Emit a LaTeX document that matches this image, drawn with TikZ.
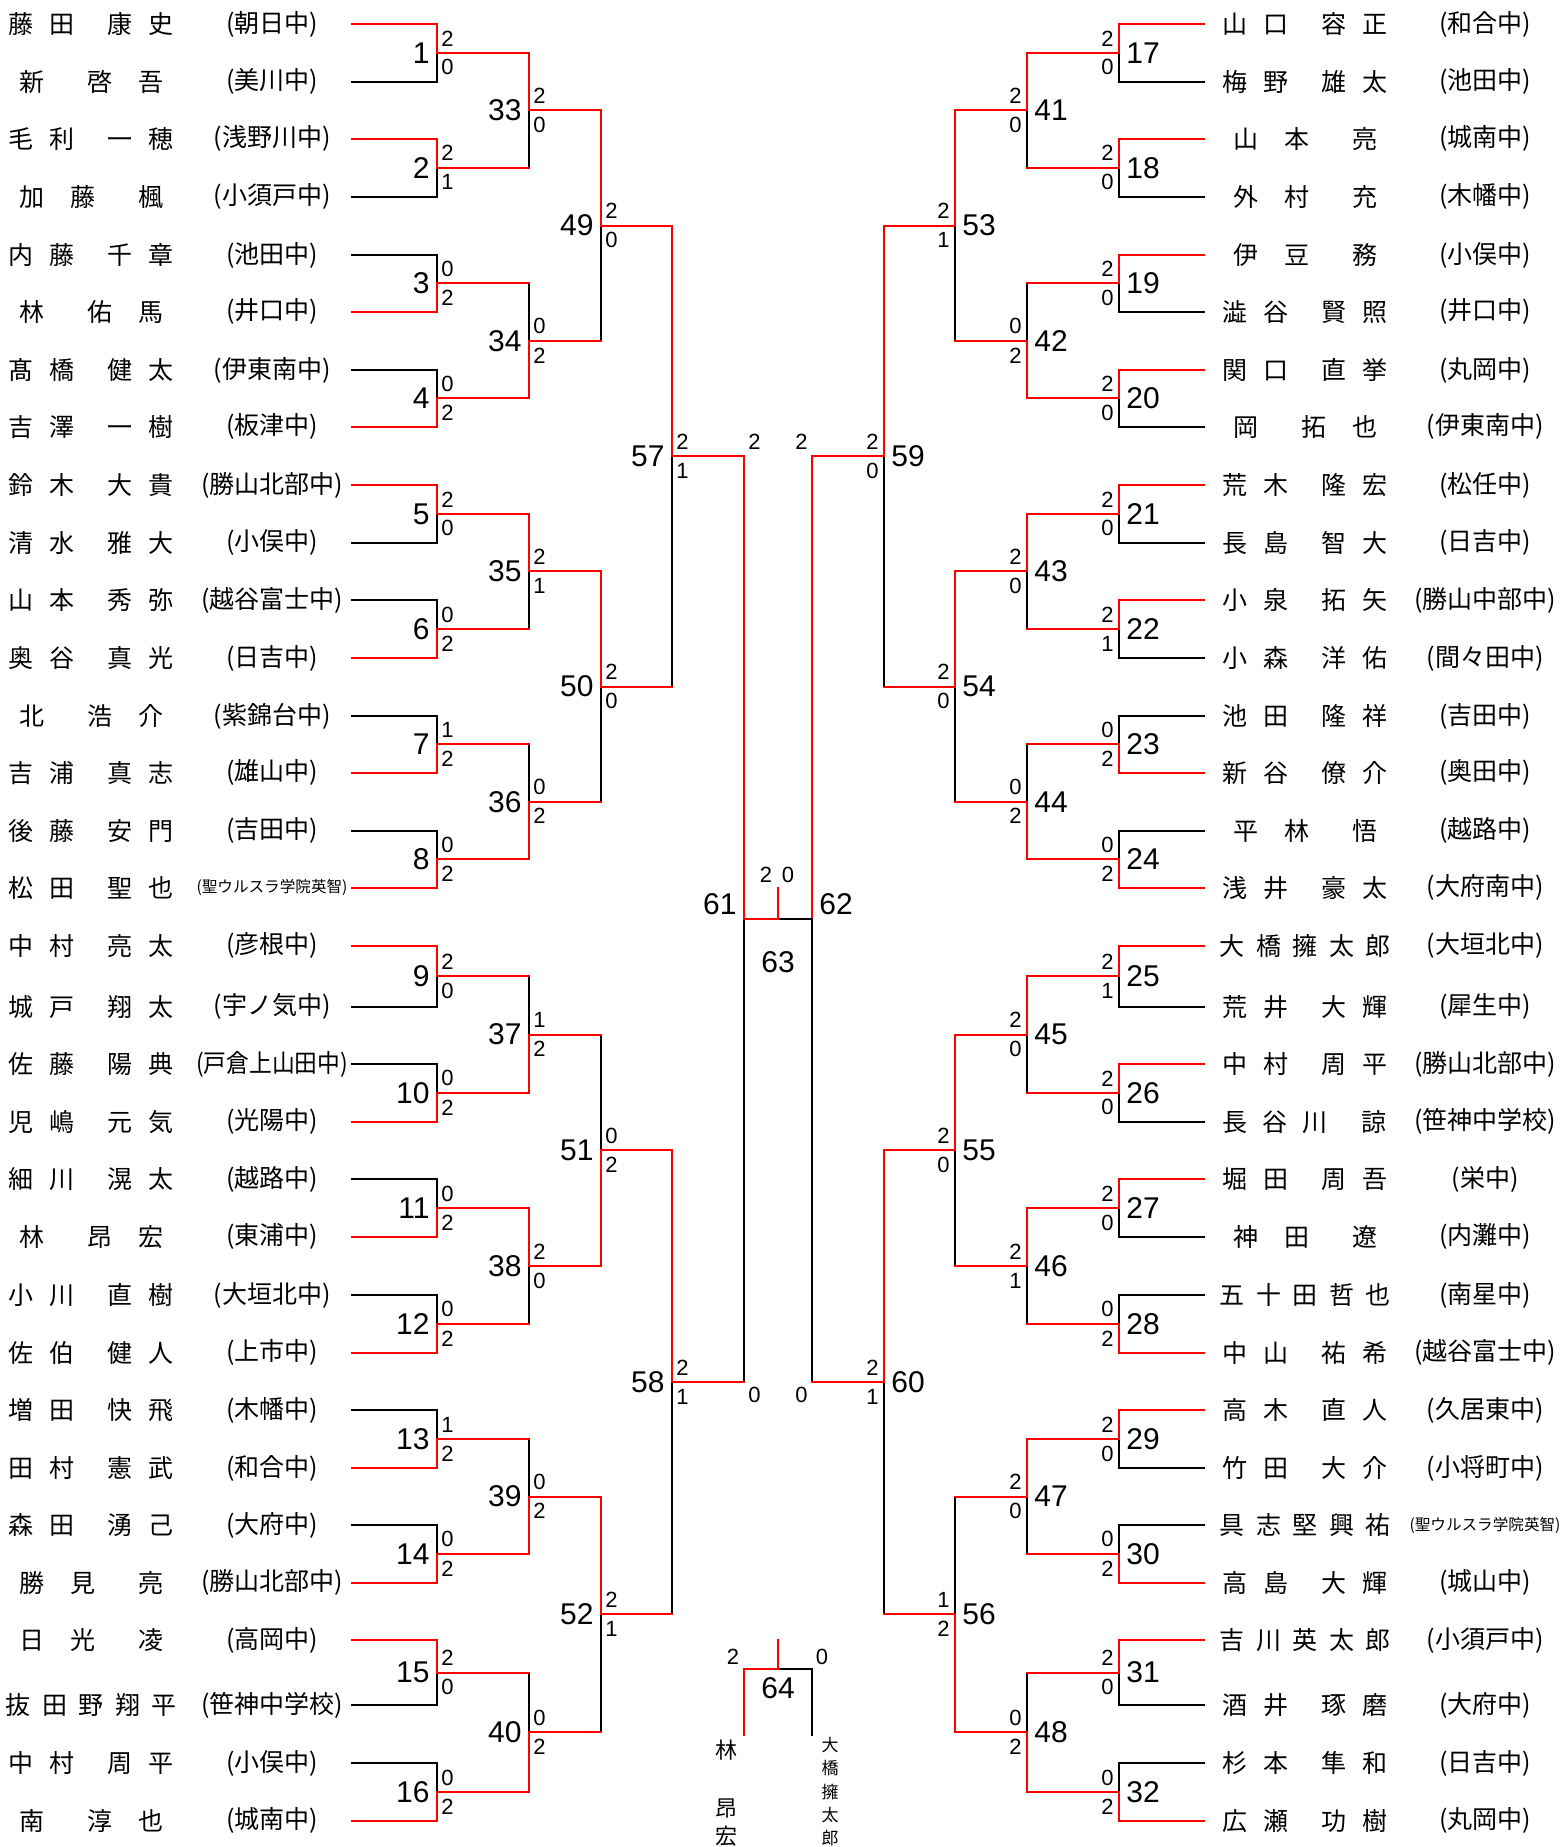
\documentclass[tikz,border=0pt]{standalone}
\usepackage{fontspec}
\usepackage{graphicx}
\setmainfont{Liberation Sans}
\newfontfamily\jpfont{Noto Sans CJK JP}
\usetikzlibrary{calc}
\definecolor{WinClr}{rgb}{1,0,0}
\definecolor{LineClr}{rgb}{0,0,0}

\newcommand\NameFont{\jpfont\fontsize{12.5pt}{12.5pt}\selectfont}
\newcommand\NumFont{\fontsize{15pt}{15pt}\selectfont}
\newcommand\ScoreFont{\fontsize{11pt}{11pt}\selectfont}
\newcommand\SmallSch{\fontsize{7.8pt}{7.8pt}\selectfont}
\newcommand\Sq[1]{\scalebox{0.91}[1]{#1}}

\newcommand\Ch[2]{\rlap{\hspace*{#1pt}\makebox[0pt]{#2}}}
\newcommand\NmA[4]{\Ch{10.5}{#1}\Ch{31}{#2}\Ch{60}{#3}\Ch{80.5}{#4}\hspace*{92pt}}
\newcommand\NmB[3]{\Ch{16}{#1}\Ch{50}{#2}\Ch{75.5}{#3}\hspace*{92pt}}
\newcommand\NmC[3]{\Ch{16}{#1}\Ch{41.5}{#2}\Ch{75.5}{#3}\hspace*{92pt}}
\newcommand\NmD[5]{\Ch{8.75}{#1}\Ch{27.25}{#2}\Ch{45.25}{#3}\Ch{64}{#4}\Ch{82}{#5}\hspace*{92pt}}
\newcommand\NmE[4]{\Ch{10.5}{#1}\Ch{30.5}{#2}\Ch{50.5}{#3}\Ch{80}{#4}\hspace*{92pt}}

\newcommand\PlayerL[4]{\node[pname] (nL#1) at (0,#2) {#3};
 \node[school] (sL#1) at (272,#2) {#4};
 \coordinate (bL#1) at (352,#2);
 \coordinate (aL#1) at (437,#2);}
\newcommand\PlayerR[4]{\node[pname] (nR#1) at (1214,#2) {#3};
 \node[school] (sR#1) at (1485,#2) {#4};
 \coordinate (bR#1) at (1204,#2);
 \coordinate (aR#1) at (1119,#2);}

\newcommand\Bar[8]{\coordinate (#5) at ($(#2)!.5!(#4)$);
 \ifnum#6>#7 \draw[lose] (#4) -- (#5); \draw[#8] (#3) -- (#4); \draw[win] (#1) -- (#2) -- (#5);
 \else \draw[lose] (#2) -- (#5); \draw[#8] (#1) -- (#2); \draw[win] (#3) -- (#4) -- (#5); \fi}

\newcommand\LabL[4]{\node[mnum,anchor=east] (k#2) at ($(#1)+(-7,0)$) {#2};
 \node[score,anchor=west] (k#2t) at ($(#1)+(4,-14.5)$) {#3};
 \node[score,anchor=west] (k#2b) at ($(#1)+(4,14.5)$) {#4};}
\newcommand\LabR[4]{\node[mnum,anchor=west] (k#2) at ($(#1)+(7,0)$) {#2};
 \node[score,anchor=east] (k#2t) at ($(#1)+(-5,-14.5)$) {#3};
 \node[score,anchor=east] (k#2b) at ($(#1)+(-5,14.5)$) {#4};}

\newcommand\FirstL[5]{\Bar{bL#2}{aL#2}{bL#3}{aL#3}{M#1}{#4}{#5}{lose}\LabL{M#1}{#1}{#4}{#5}}
\newcommand\FirstR[5]{\Bar{bR#2}{aR#2}{bR#3}{aR#3}{M#1}{#4}{#5}{lose}\LabR{M#1}{#1}{#4}{#5}}
\newcommand\NextL[6]{\coordinate (t#1) at (M#2 -| #4);
 \coordinate (u#1) at (M#3 -| #4);
 \Bar{M#2}{t#1}{M#3}{u#1}{M#1}{#5}{#6}{win}\LabL{M#1}{#1}{#5}{#6}}
\newcommand\NextR[6]{\coordinate (t#1) at (M#2 -| #4);
 \coordinate (u#1) at (M#3 -| #4);
 \Bar{M#2}{t#1}{M#3}{u#1}{M#1}{#5}{#6}{win}\LabR{M#1}{#1}{#5}{#6}}

\begin{document}
\begin{tikzpicture}[x=0.5pt,y=-0.5pt,
 win/.style={draw=WinClr,line width=1pt,line cap=rect},
 lose/.style={draw=LineClr,line width=1pt,line cap=rect},
 pname/.style={anchor=west,inner sep=0pt,font=\NameFont},
 school/.style={inner sep=0pt,font=\NameFont},
 mnum/.style={inner sep=0pt,font=\NumFont},
 score/.style={inner sep=0pt,font=\ScoreFont},
 vname/.style={inner sep=0pt,anchor=north,align=center,font=\jpfont\fontsize{11pt}{14pt}\selectfont},
 vname small/.style={vname,font=\jpfont\fontsize{8.5pt}{11.65pt}\selectfont}]
\useasboundingbox (0,0) rectangle (1559,1847);

\coordinate (cL2) at (529,0);
\coordinate (cL3) at (601,0);
\coordinate (cL4) at (672,0);
\coordinate (cL5) at (744,0);
\coordinate (cR2) at (1027,0);
\coordinate (cR3) at (955,0);
\coordinate (cR4) at (884,0);
\coordinate (cR5) at (812,0);

\PlayerL{0}{24}{\NmA{藤}{田}{康}{史}}{(朝日中)}
\PlayerL{1}{81.7}{\NmB{新}{啓}{吾}}{(美川中)}
\PlayerL{2}{138.7}{\NmA{毛}{利}{一}{穂}}{(浅野川中)}
\PlayerL{3}{196.7}{\NmC{加}{藤}{楓}}{(小須戸中)}
\PlayerL{4}{255}{\NmA{内}{藤}{千}{章}}{(池田中)}
\PlayerL{5}{311.7}{\NmB{林}{佑}{馬}}{(井口中)}
\PlayerL{6}{370}{\NmA{髙}{橋}{健}{太}}{(伊東南中)}
\PlayerL{7}{426.7}{\NmA{吉}{澤}{一}{樹}}{(板津中)}
\PlayerL{8}{485}{\NmA{鈴}{木}{大}{貴}}{(勝山北部中)}
\PlayerL{9}{542.7}{\NmA{清}{水}{雅}{大}}{(小俣中)}
\PlayerL{10}{600}{\NmA{山}{本}{秀}{弥}}{(越谷富士中)}
\PlayerL{11}{658}{\NmA{奥}{谷}{真}{光}}{(日吉中)}
\PlayerL{12}{716}{\NmB{北}{浩}{介}}{(紫錦台中)}
\PlayerL{13}{772.7}{\NmA{吉}{浦}{真}{志}}{(雄山中)}
\PlayerL{14}{830.7}{\NmA{後}{藤}{安}{門}}{(吉田中)}
\PlayerL{15}{887.7}{\NmA{松}{田}{聖}{也}}{{\SmallSch(聖ウルスラ学院英智)}}
\PlayerL{16}{945.7}{\NmA{中}{村}{亮}{太}}{(彦根中)}
\PlayerL{17}{1006.7}{\NmA{城}{戸}{翔}{太}}{(宇ノ気中)}
\PlayerL{18}{1064}{\NmA{佐}{藤}{陽}{典}}{\Sq{(戸倉上山田中)}}
\PlayerL{19}{1121.7}{\NmA{児}{嶋}{元}{気}}{(光陽中)}
\PlayerL{20}{1179.3}{\NmA{細}{川}{滉}{太}}{(越路中)}
\PlayerL{21}{1236.7}{\NmB{林}{昂}{宏}}{(東浦中)}
\PlayerL{22}{1295}{\NmA{小}{川}{直}{樹}}{(大垣北中)}
\PlayerL{23}{1352.7}{\NmA{佐}{伯}{健}{人}}{(上市中)}
\PlayerL{24}{1410}{\NmA{増}{田}{快}{飛}}{(木幡中)}
\PlayerL{25}{1468.3}{\NmA{田}{村}{憲}{武}}{(和合中)}
\PlayerL{26}{1525}{\NmA{森}{田}{湧}{己}}{(大府中)}
\PlayerL{27}{1582.7}{\NmC{勝}{見}{亮}}{(勝山北部中)}
\PlayerL{28}{1640}{\NmC{日}{光}{凌}}{(高岡中)}
\PlayerL{29}{1705}{\NmD{抜}{田}{野}{翔}{平}}{(笹神中学校)}
\PlayerL{30}{1763.3}{\NmA{中}{村}{周}{平}}{(小俣中)}
\PlayerL{31}{1820.7}{\NmB{南}{淳}{也}}{(城南中)}

\PlayerR{0}{24}{\NmA{山}{口}{容}{正}}{(和合中)}
\PlayerR{1}{81.7}{\NmA{梅}{野}{雄}{太}}{(池田中)}
\PlayerR{2}{138.7}{\NmC{山}{本}{亮}}{(城南中)}
\PlayerR{3}{196.7}{\NmC{外}{村}{充}}{(木幡中)}
\PlayerR{4}{255}{\NmC{伊}{豆}{務}}{(小俣中)}
\PlayerR{5}{311.7}{\NmA{澁}{谷}{賢}{照}}{(井口中)}
\PlayerR{6}{370}{\NmA{関}{口}{直}{挙}}{(丸岡中)}
\PlayerR{7}{426.7}{\NmB{岡}{拓}{也}}{(伊東南中)}
\PlayerR{8}{485}{\NmA{荒}{木}{隆}{宏}}{(松任中)}
\PlayerR{9}{542.7}{\NmA{長}{島}{智}{大}}{(日吉中)}
\PlayerR{10}{600}{\NmA{小}{泉}{拓}{矢}}{(勝山中部中)}
\PlayerR{11}{658}{\NmA{小}{森}{洋}{佑}}{(間々田中)}
\PlayerR{12}{716}{\NmA{池}{田}{隆}{祥}}{(吉田中)}
\PlayerR{13}{772.7}{\NmA{新}{谷}{僚}{介}}{(奥田中)}
\PlayerR{14}{830.7}{\NmC{平}{林}{悟}}{(越路中)}
\PlayerR{15}{887.7}{\NmA{浅}{井}{豪}{太}}{(大府南中)}
\PlayerR{16}{945.7}{\NmD{大}{橋}{擁}{太}{郎}}{(大垣北中)}
\PlayerR{17}{1006.7}{\NmA{荒}{井}{大}{輝}}{(犀生中)}
\PlayerR{18}{1064}{\NmA{中}{村}{周}{平}}{(勝山北部中)}
\PlayerR{19}{1121.7}{\NmE{長}{谷}{川}{諒}}{(笹神中学校)}
\PlayerR{20}{1179.3}{\NmA{堀}{田}{周}{吾}}{(栄中)}
\PlayerR{21}{1236.7}{\NmC{神}{田}{遼}}{(内灘中)}
\PlayerR{22}{1295}{\NmD{五}{十}{田}{哲}{也}}{(南星中)}
\PlayerR{23}{1352.7}{\NmA{中}{山}{祐}{希}}{(越谷富士中)}
\PlayerR{24}{1410}{\NmA{高}{木}{直}{人}}{(久居東中)}
\PlayerR{25}{1468.3}{\NmA{竹}{田}{大}{介}}{(小将町中)}
\PlayerR{26}{1525}{\NmD{具}{志}{堅}{興}{祐}}{{\SmallSch(聖ウルスラ学院英智)}}
\PlayerR{27}{1582.7}{\NmA{高}{島}{大}{輝}}{(城山中)}
\PlayerR{28}{1640}{\NmD{吉}{川}{英}{太}{郎}}{(小須戸中)}
\PlayerR{29}{1705}{\NmA{酒}{井}{琢}{磨}}{(大府中)}
\PlayerR{30}{1763.3}{\NmA{杉}{本}{隼}{和}}{(日吉中)}
\PlayerR{31}{1820.7}{\NmA{広}{瀬}{功}{樹}}{(丸岡中)}

\FirstL{1}{0}{1}{2}{0}
\FirstL{2}{2}{3}{2}{1}
\FirstL{3}{4}{5}{0}{2}
\FirstL{4}{6}{7}{0}{2}
\FirstL{5}{8}{9}{2}{0}
\FirstL{6}{10}{11}{0}{2}
\FirstL{7}{12}{13}{1}{2}
\FirstL{8}{14}{15}{0}{2}
\FirstL{9}{16}{17}{2}{0}
\FirstL{10}{18}{19}{0}{2}
\FirstL{11}{20}{21}{0}{2}
\FirstL{12}{22}{23}{0}{2}
\FirstL{13}{24}{25}{1}{2}
\FirstL{14}{26}{27}{0}{2}
\FirstL{15}{28}{29}{2}{0}
\FirstL{16}{30}{31}{0}{2}

\FirstR{17}{0}{1}{2}{0}
\FirstR{18}{2}{3}{2}{0}
\FirstR{19}{4}{5}{2}{0}
\FirstR{20}{6}{7}{2}{0}
\FirstR{21}{8}{9}{2}{0}
\FirstR{22}{10}{11}{2}{1}
\FirstR{23}{12}{13}{0}{2}
\FirstR{24}{14}{15}{0}{2}
\FirstR{25}{16}{17}{2}{1}
\FirstR{26}{18}{19}{2}{0}
\FirstR{27}{20}{21}{2}{0}
\FirstR{28}{22}{23}{0}{2}
\FirstR{29}{24}{25}{2}{0}
\FirstR{30}{26}{27}{0}{2}
\FirstR{31}{28}{29}{2}{0}
\FirstR{32}{30}{31}{0}{2}

\NextL{33}{1}{2}{cL2}{2}{0}
\NextL{34}{3}{4}{cL2}{0}{2}
\NextL{35}{5}{6}{cL2}{2}{1}
\NextL{36}{7}{8}{cL2}{0}{2}
\NextL{37}{9}{10}{cL2}{1}{2}
\NextL{38}{11}{12}{cL2}{2}{0}
\NextL{39}{13}{14}{cL2}{0}{2}
\NextL{40}{15}{16}{cL2}{0}{2}
\NextL{49}{33}{34}{cL3}{2}{0}
\NextL{50}{35}{36}{cL3}{2}{0}
\NextL{51}{37}{38}{cL3}{0}{2}
\NextL{52}{39}{40}{cL3}{2}{1}
\NextL{57}{49}{50}{cL4}{2}{1}
\NextL{58}{51}{52}{cL4}{2}{1}

\NextR{41}{17}{18}{cR2}{2}{0}
\NextR{42}{19}{20}{cR2}{0}{2}
\NextR{43}{21}{22}{cR2}{2}{0}
\NextR{44}{23}{24}{cR2}{0}{2}
\NextR{45}{25}{26}{cR2}{2}{0}
\NextR{46}{27}{28}{cR2}{2}{1}
\NextR{47}{29}{30}{cR2}{2}{0}
\NextR{48}{31}{32}{cR2}{0}{2}
\NextR{53}{41}{42}{cR3}{2}{1}
\NextR{54}{43}{44}{cR3}{2}{0}
\NextR{55}{45}{46}{cR3}{2}{0}
\NextR{56}{47}{48}{cR3}{1}{2}
\NextR{59}{53}{54}{cR4}{2}{0}
\NextR{60}{55}{56}{cR4}{2}{1}

\coordinate (t61) at (M57 -| cL5);
\coordinate (u61) at (M58 -| cL5);
\Bar{M57}{t61}{M58}{u61}{M61}{2}{0}{win}
\coordinate (t62) at (M59 -| cR5);
\coordinate (u62) at (M60 -| cR5);
\Bar{M59}{t62}{M60}{u62}{M62}{2}{0}{win}
\coordinate (M63) at ($(M61)!.5!(M62)$);
\coordinate (w63) at ($(M63)+(0,-31)$);
\draw[lose] (M63) -- (M62);
\draw[win] (M61) -- (M63) -- (w63);

\node[mnum,anchor=east] (k61) at ($(M61)+(-7,-15)$) {61};
\node[score,anchor=west] (k61t) at ($(t61)+(4,-14)$) {2};
\node[score,anchor=west] (k61b) at ($(u61)+(4,13)$) {0};
\node[mnum,anchor=west] (k62) at ($(M62)+(7,-15)$) {62};
\node[score,anchor=east] (k62t) at ($(t62)+(-4,-14)$) {2};
\node[score,anchor=east] (k62b) at ($(u62)+(-4,13)$) {0};
\node[mnum] (k63) at ($(M63)+(0,43)$) {63};
\node[score] (k63t) at ($(M63)+(-12,-44)$) {2};
\node[score] (k63b) at ($(M63)+(10,-44)$) {0};

\coordinate (a64) at (744,1735);
\coordinate (c64) at (744,1669);
\coordinate (b64) at (812,1735);
\coordinate (d64) at (812,1669);
\Bar{a64}{c64}{b64}{d64}{M64}{2}{0}{lose}
\coordinate (w64) at ($(M64)+(0,-29)$);
\draw[win] (M64) -- (w64);
\node[mnum] (k64) at ($(M64)+(0,19)$) {64};
\node[score] (k64t) at ($(M64)+(-45,-12)$) {2};
\node[score] (k64b) at ($(M64)+(44,-12)$) {0};
\node[vname] (n64a) at (726,1740) {林\\[15pt]昂\\宏};
\node[vname small] (n64b) at (830,1737) {大\\橋\\擁\\太\\郎};

\end{tikzpicture}
\end{document}
